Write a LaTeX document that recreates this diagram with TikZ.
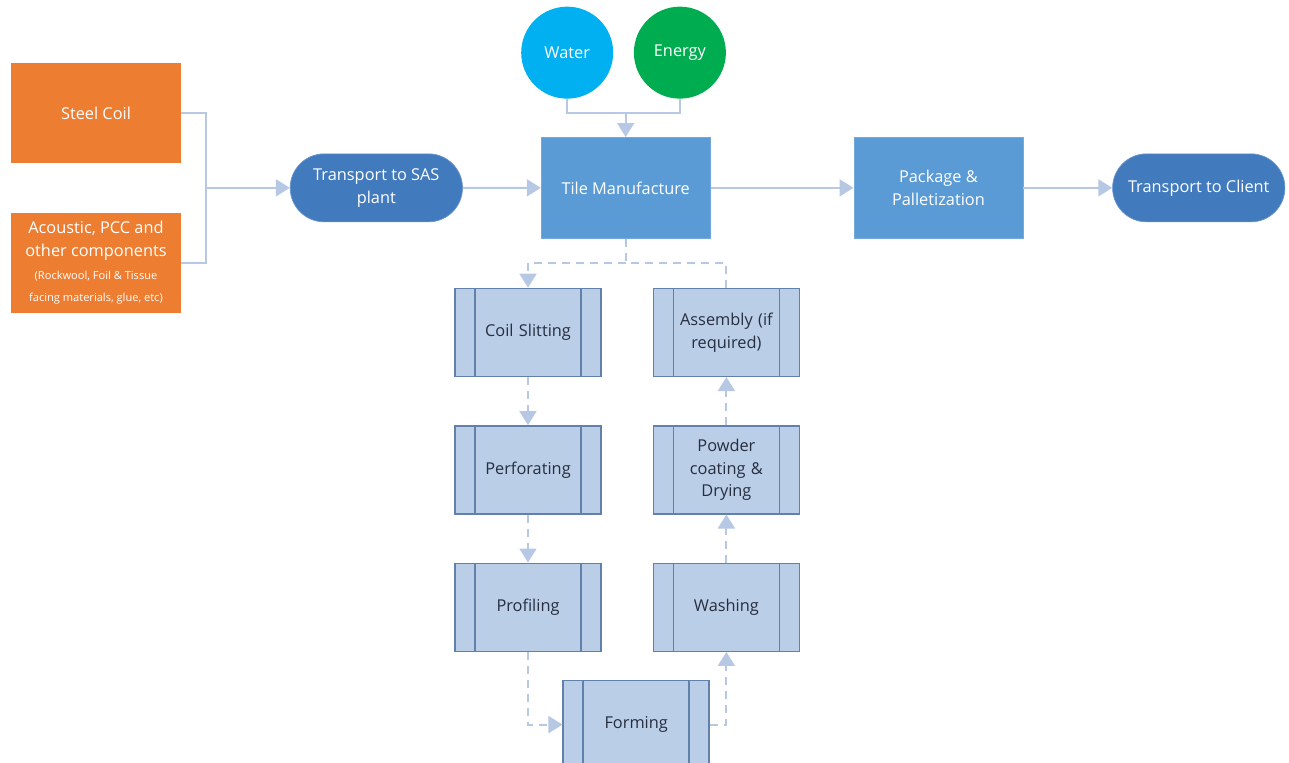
\documentclass[tikz,border=0pt]{standalone}
\usepackage{fontspec}
\setmainfont{Open Sans}
\usepackage{tikz}
\usetikzlibrary{shapes.geometric, shapes.misc, arrows.meta, positioning, calc}
\definecolor{coilorange}{RGB}{237,125,49}
\definecolor{tileblue}{RGB}{91,155,213}
\definecolor{pillblue}{RGB}{66,122,190}
\definecolor{waterblue}{RGB}{0,176,240}
\definecolor{energygreen}{RGB}{0,172,80}
\definecolor{linkgrey}{RGB}{182,200,228}
\definecolor{procfill}{RGB}{187,206,232}
\definecolor{procline}{RGB}{98,128,172}
\definecolor{proctext}{RGB}{38,46,62}

\begin{document}
\begin{tikzpicture}[
    font=\fontsize{9.3}{13}\selectfont,
    src/.style={rectangle, fill=coilorange, text=white, minimum width=3.38cm, minimum height=2cm, align=center},
    pill/.style={rounded rectangle, fill=pillblue, draw=pillblue!80!white, text=white, minimum width=3.68cm, minimum height=1.36cm, align=center},
    block/.style={rectangle, fill=tileblue, draw=tileblue!85!white, text=white, minimum width=3.38cm, minimum height=2.02cm, align=center},
    res/.style={circle, text=white, minimum size=1.84cm},
    proc/.style={rectangle, draw=procline, fill=procfill, text=proctext, line width=0.8pt, minimum width=2.92cm, minimum height=1.76cm, text width=2.1cm, align=center,
        path picture={\draw[procline, line width=0.8pt]
            ([xshift=0.4cm]path picture bounding box.north west) -- ([xshift=0.4cm]path picture bounding box.south west)
            ([xshift=-0.4cm]path picture bounding box.north east) -- ([xshift=-0.4cm]path picture bounding box.south east);}},
    link/.style={draw=linkgrey, line width=1.1pt},
    arrow/.style={link, -{Triangle[width=0.34cm, length=0.28cm]}},
    dlink/.style={link, dash pattern=on 0.16cm off 0.12cm},
    darrow/.style={dlink, -{Triangle[width=0.34cm, length=0.28cm]}}
]
\useasboundingbox (0,0) rectangle (25.78,-15.24);
\clip (0,0) rectangle (25.78,-15.24);

% Inputs
\node[src] (steel) at (1.92,-2.26) {Steel Coil};
\node[src, below=0.98cm of steel] (comp) {Acoustic, PCC and\\other components\\{\fontsize{6.3}{13}\selectfont (Rockwool, Foil \& Tissue}\\{\fontsize{6.3}{13}\selectfont facing materials, glue, etc)}};
\coordinate (join) at ($(steel.east)!0.5!(comp.east)+(0.5,0)$);

% Main line
\node[pill, right=1.68cm of join] (sas) {Transport to SAS\\plant};
\node[block, right=1.56cm of sas] (tile) {Tile Manufacture};
\node[block, right=2.86cm of tile] (pack) {Package \&\\Palletization};
\node[pill, right=1.78cm of pack] (client) {Transport to Client};

% Resources
\node[res, fill=waterblue, above=0.76cm of tile.north, xshift=-1.17cm] (water) {Water};
\node[res, fill=energygreen, right=0.4cm of water] (energy) {Energy};
\coordinate (feed) at ($(water.south)+(0,-0.28)$);

% Process steps
\node[proc, below left=0.98cm and 0.48cm of tile.south] (slit) {Coil Slitting};
\node[proc, below right=0.98cm and 0.54cm of tile.south] (assy) {Assembly (if\\required)};
\node[proc, below=0.96cm of slit] (perf) {Perforating};
\node[proc, below=0.96cm of perf] (prof) {Profiling};
\node[proc, below=0.96cm of assy] (coat) {Powder\\coating \&\\Drying};
\node[proc, below=0.96cm of coat] (wash) {Washing};
\coordinate (mid) at ($(prof.south)!0.5!(wash.south)$);
\node[proc, below=0.56cm of mid, xshift=0.18cm] (form) {Forming};
\coordinate (split) at ($(tile.south)+(0,-0.48)$);

% Arrows
\draw[link] (steel.east) -| (join);
\draw[link] (comp.east) -| (join);
\draw[arrow] (join) -- (sas);
\draw[arrow] (sas) -- (tile);
\draw[arrow] (tile) -- (pack);
\draw[arrow] (pack) -- (client);
\draw[link] (water.south) -- (feed) -| (energy.south);
\draw[arrow] (feed -| tile.north) -- (tile.north);

\draw[dlink] (tile.south) -- (split);
\draw[darrow] (split) -| (slit.north);
\draw[dlink] (assy.north) |- (split);
\draw[darrow] (slit) -- (perf);
\draw[darrow] (perf) -- (prof);
\draw[darrow] (prof.south) |- (form.west);
\draw[darrow] (form.east) -| (wash.south);
\draw[darrow] (wash) -- (coat);
\draw[darrow] (coat) -- (assy);

\end{tikzpicture}
\end{document}
